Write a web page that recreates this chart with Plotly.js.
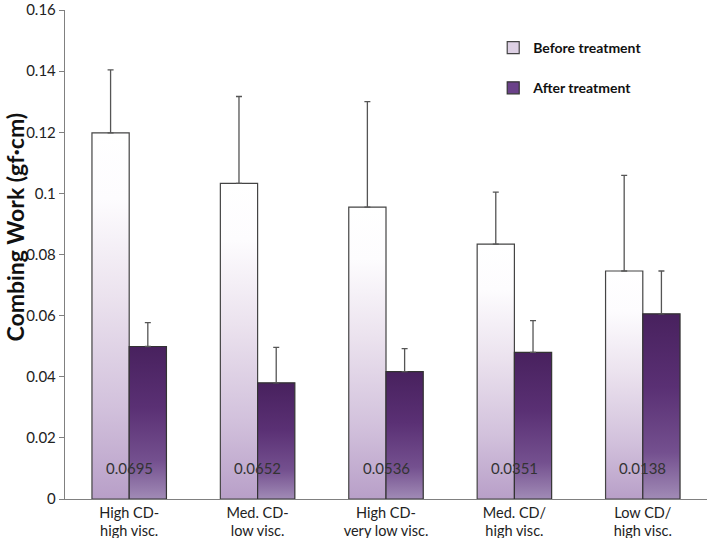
<!DOCTYPE html>
<html>
<head>
<meta charset="utf-8">
<script src="https://cdn.plot.ly/plotly-3.0.1.min.js"></script>
<style>html,body{margin:0;padding:0;background:#fff;}#chart{width:709px;height:538px;}</style>
</head>
<body>
<div id="chart"></div>
<script>
var categories = ["High CD-<br>high visc.", "Med. CD-<br>low visc.", "High CD-<br>very low visc.", "Med. CD/<br>high visc.", "Low CD/<br>high visc."];
var beforeValues = [0.1198, 0.1033, 0.0955, 0.0834, 0.0746];
var beforeErrPlus = [0.0206, 0.0284, 0.0345, 0.0170, 0.0313];
var beforeErrMinus = [0, 0, 0, 0, 0];
var afterValues = [0.0499, 0.0380, 0.0417, 0.0480, 0.0606];
var afterErrPlus = [0.0078, 0.0116, 0.0075, 0.0104, 0.0140];
var afterErrMinus = [0, 0, 0, 0, 0];
var pLabels = ["0.0695", "0.0652", "0.0536", "0.0351", "0.0138"];
var pLabelY = 0.0101;
var yTickVals = [0, 0.02, 0.04, 0.06, 0.08, 0.1, 0.12, 0.14, 0.16];
var yTickText = ["0", "0.02", "0.04", "0.06", "0.08", "0.1", "0.12", "0.14", "0.16"];
var yTitle = "Combing Work (gf·cm)";

var FONT = "Lato, 'Open Sans', sans-serif";

var traces = [
  {
    type: "bar", name: "Before treatment", x: categories, y: beforeValues,
    legendgroup: "a",
    marker: {color: "#ddd0e4", line: {color: "#444", width: 1.2}},
    error_y: {type: "data", symmetric: false, array: beforeErrPlus, arrayminus: beforeErrMinus,
              color: "#555", thickness: 1.3, width: 3}
  },
  {
    type: "bar", name: "After treatment", x: categories, y: afterValues,
    legendgroup: "b",
    marker: {color: "#6a4189", line: {color: "#333", width: 1.2}},
    error_y: {type: "data", symmetric: false, array: afterErrPlus, arrayminus: afterErrMinus,
              color: "#555", thickness: 1.3, width: 3}
  }
];

var annotations = categories.map(function(c, i){
  return {x: c, y: pLabelY, xref: "x", yref: "y", text: pLabels[i], showarrow: false,
          font: {family: FONT, size: 15, color: "#333"}};
});
annotations.push({
  text: yTitle, xref: "paper", yref: "paper", x: -0.078, y: 0.557,
  xanchor: "center", yanchor: "middle", textangle: -90, showarrow: false,
  font: {family: FONT, size: 23, color: "#111", weight: "bold"}
});

var layout = {
  width: 709, height: 538,
  margin: {l: 65, r: 2, t: 10, b: 39},
  paper_bgcolor: "#fff", plot_bgcolor: "#fff",
  font: {family: FONT, size: 14, color: "#222"},
  barmode: "group", bargap: 0.42, bargroupgap: 0,
  showlegend: true,
  legend: {x: 0.667, y: 0.955, xanchor: "left", yanchor: "top", traceorder: "grouped",
           tracegroupgap: 19, bgcolor: "rgba(0,0,0,0)",
           font: {family: FONT, size: 14, color: "#111", weight: "bold"},
           itemwidth: 30},
  xaxis: {showline: true, linecolor: "#808080", linewidth: 1.2, ticks: "", showgrid: false,
          tickfont: {family: FONT, size: 14.5, color: "#222"}, zeroline: false},
  yaxis: {range: [0, 0.16001], tickmode: "array", tickvals: yTickVals, ticktext: yTickText,
          ticklabeloverflow: "allow",
          showline: true, linecolor: "#808080", linewidth: 1.2,
          ticks: "outside", ticklen: 5, tickcolor: "#808080", showgrid: false, zeroline: false,
          tickfont: {family: FONT, size: 15, color: "#222"}},
  annotations: annotations
};

function applyGradients(gd){
  var svg = gd.querySelector("svg.main-svg");
  if(!svg) return;
  var ns = "http://www.w3.org/2000/svg";
  var defs = svg.querySelector("defs");
  if(!defs){ defs = document.createElementNS(ns, "defs"); svg.insertBefore(defs, svg.firstChild); }
  function grad(id, stops){
    if(defs.querySelector("#" + id)) return;
    var g = document.createElementNS(ns, "linearGradient");
    g.setAttribute("id", id); g.setAttribute("x1", "0"); g.setAttribute("y1", "0");
    g.setAttribute("x2", "0"); g.setAttribute("y2", "1");
    stops.forEach(function(s){
      var st = document.createElementNS(ns, "stop");
      st.setAttribute("offset", s[0]); st.setAttribute("stop-color", s[1]);
      g.appendChild(st);
    });
    defs.appendChild(g);
  }
  grad("gBefore", [["0", "#ffffff"], ["0.18", "#fdfcfe"], ["0.45", "#ebe2ee"], ["0.75", "#d2c1dc"], ["1", "#b89fc8"]]);
  grad("gAfter", [["0", "#48215e"], ["0.4", "#5a3074"], ["0.75", "#74508f"], ["1", "#a18bb6"]]);
  var traceGroups = gd.querySelectorAll(".barlayer .trace");
  traceGroups.forEach(function(tg, i){
    var id = i === 0 ? "gBefore" : "gAfter";
    tg.querySelectorAll(".point path").forEach(function(p){ p.style.fill = "url(#" + id + ")"; });
  });
}

var gd = document.getElementById("chart");
Plotly.newPlot(gd, traces, layout, {displayModeBar: false, staticPlot: true}).then(function(){
  applyGradients(gd);
  gd.on("plotly_afterplot", function(){ applyGradients(gd); });
});
</script>
</body>
</html>
